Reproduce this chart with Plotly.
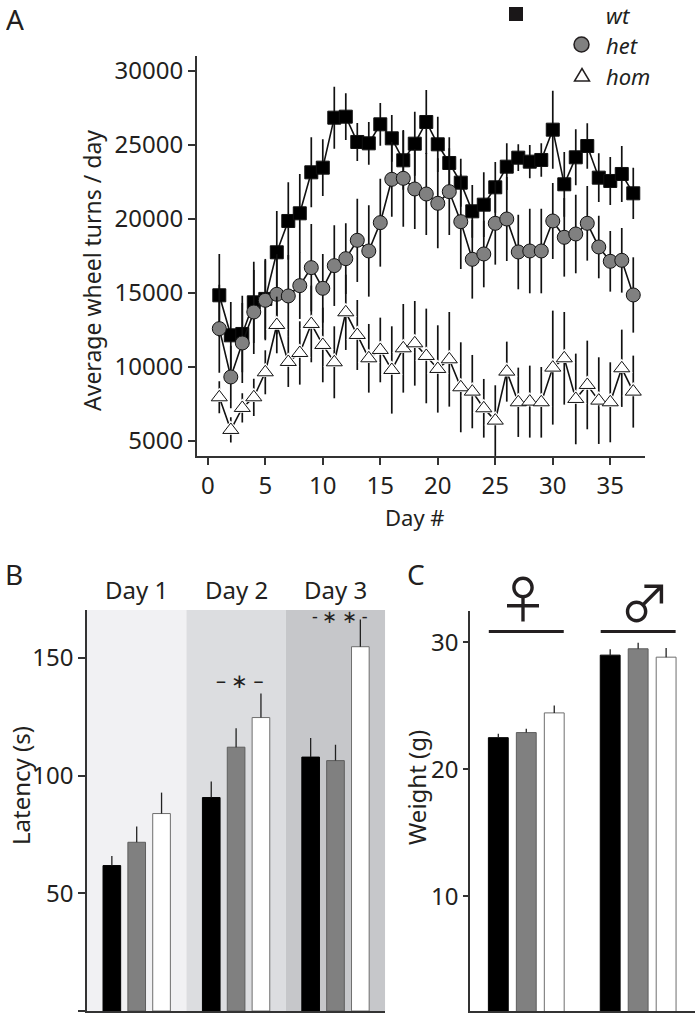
import plotly.graph_objects as go

W, H = 699, 1016
FONT = "Noto Sans"
INK = "#231f20"

# ---------- Panel A ----------
days = list(range(1, 38))
wt_turns = [14844, 12140, 12232, 14370, 14600, 17750, 19866, 20384, 23154, 23470, 26847, 26915, 25204,
            25113, 26397, 25451, 23965, 25091, 26555, 25046, 23785, 22456, 20519, 20970, 22141, 23537,
            24145, 23875, 23988, 26037, 22344, 24168, 24933, 22794, 22569, 23042, 21735]
wt_err = [2792, 2252, 2590, 2747, 2702, 2792, 2612, 2657, 2365, 1914, 2094, 1576, 1284, 1441, 1441, 1576,
          1982, 2162, 2162, 1869, 1734, 1621, 1779, 2184, 1712, 1576, 901, 1126, 1126, 2635, 2184, 1892,
          1531, 1644, 1621, 1892, 1734]
het_turns = [12592, 9327, 11624, 13718, 14507, 14912, 14800, 15498, 16713, 15317, 16849, 17321, 18560,
             17839, 19754, 22681, 22749, 22028, 21690, 21060, 21848, 19821, 17277, 17637, 19708, 20001,
             17772, 17839, 17839, 19866, 18763, 18988, 19708, 18110, 17141, 17209, 14867]
het_err = [2973, 2117, 2702, 2838, 2702, 2702, 2770, 2252, 2950, 2320, 2725, 2387, 2815, 3085, 2973, 2522,
           3265, 2702, 2770, 3040, 2928, 3198, 2657, 2252, 2792, 2838, 2522, 2860, 2860, 2567, 2657, 2657,
           2522, 2117, 2049, 2184, 2545]
hom_turns = [7953, 5746, 7233, 7953, 9642, 12840, 10340, 10948, 12908, 11489, 10318, 13696, 12164, 10588,
             11151, 9800, 11263, 11601, 10746, 9868, 10520, 8629, 8336, 7210, 6377, 9687, 7615, 7661, 7615,
             9958, 10588, 7841, 8786, 7728, 7615, 9913, 8336]
hom_err = [1081, 856, 991, 1261, 1486, 1914, 1689, 2139, 2590, 2522, 2432, 2545, 2365, 2320, 2184, 2950,
           2995, 2860, 3198, 2950, 3198, 3040, 2477, 1982, 2387, 2027, 2342, 2432, 2387, 3851, 3130, 3063,
           2995, 2928, 2702, 2612, 2432]
a_xticks = [0, 5, 10, 15, 20, 25, 30, 35]
a_yticks = [5000, 10000, 15000, 20000, 25000, 30000]

# ---------- Panel B ----------
b_days = ["Day 1", "Day 2", "Day 3"]
b_wt = [61.8, 90.7, 107.9]
b_wt_err = [4.1, 6.8, 8.1]
b_het = [71.7, 112.1, 106.4]
b_het_err = [6.7, 8.1, 6.7]
b_hom = [83.9, 124.7, 154.8]
b_hom_err = [8.9, 10.2, 11.6]
b_yticks = [0, 50, 100, 150]
b_ylabels = ["", "50", "100", "150"]
b_bands = ["#f1f1f3", "#dcdde0", "#c6c7ca"]

# ---------- Panel C ----------
c_sex = ["\u2640", "\u2642"]
c_wt = [22.5, 29.0]
c_wt_err = [0.3, 0.47]
c_het = [22.9, 29.5]
c_het_err = [0.3, 0.47]
c_hom = [24.45, 28.84]
c_hom_err = [0.58, 0.73]
c_yticks = [10, 20, 30]


def px(x):
    return x / W


def py(y):
    return 1 - y / H


fig = go.Figure()


def line_trace(x, y, err, name, sym, size, fill, mline="#111111"):
    fig.add_trace(go.Scatter(
        x=x, y=y, name=name, mode="lines+markers", xaxis="x", yaxis="y",
        line=dict(color="#111111", width=1.6),
        marker=dict(symbol=sym, size=size, color=fill, line=dict(color=mline, width=1)),
        error_y=dict(type="data", array=err, width=0, thickness=1.7, color="#111111"),
        showlegend=False,
    ))


line_trace(days, wt_turns, wt_err, "wt", "square", 13, "#000000")
line_trace(days, het_turns, het_err, "het", "circle", 14, "#808080")
# hom: line and whiskers, then a white halo, then the open triangles
fig.add_trace(go.Scatter(
    x=days, y=hom_turns, mode="lines", name="hom", line=dict(color="#111111", width=1.6),
    error_y=dict(type="data", array=hom_err, width=0, thickness=1.7, color="#111111"), showlegend=False))
fig.add_trace(go.Scatter(
    x=days, y=hom_turns, mode="markers", name="hom halo",
    marker=dict(symbol="triangle-up", size=19, color="white"), showlegend=False))
fig.add_trace(go.Scatter(
    x=days, y=hom_turns, mode="markers", name="hom markers",
    marker=dict(symbol="triangle-up", size=14, color="white", line=dict(color="#111111", width=1)),
    showlegend=False))


def bars(xa, ya, x, y, err, color, outline):
    fig.add_trace(go.Bar(
        x=x, y=y, xaxis=xa, yaxis=ya, offsetgroup=color, showlegend=False,
        marker=dict(color=color, line=dict(color=outline, width=1)),
        error_y=dict(type="data", symmetric=False, array=err, arrayminus=[0] * len(err),
                     width=0, thickness=1.3, color="#222222"),
    ))


for vals, errs, col, out in [(b_wt, b_wt_err, "#000000", "#000000"),
                             (b_het, b_het_err, "#808080", "#5e5e5e"),
                             (b_hom, b_hom_err, "#ffffff", "#6e6e6e")]:
    bars("x2", "y2", b_days, vals, errs, col, out)
for vals, errs, col, out in [(c_wt, c_wt_err, "#000000", "#000000"),
                             (c_het, c_het_err, "#808080", "#5e5e5e"),
                             (c_hom, c_hom_err, "#ffffff", "#6e6e6e")]:
    bars("x3", "y3", c_sex, vals, errs, col, out)

axis_common = dict(showgrid=False, zeroline=False, showline=True, linecolor="#333333", linewidth=1.5,
                   ticks="outside", tickcolor="#333333", tickwidth=1.5,
                   tickfont=dict(family=FONT, size=24, color=INK))

shapes = []
for i, c in enumerate(b_bands):
    shapes.append(dict(type="rect", xref="x2", yref="y2", x0=i - 0.5, x1=i + 0.5, y0=0, y1=170.4,
                       fillcolor=c, line=dict(width=0), layer="below"))
for i in range(len(c_sex)):
    shapes.append(dict(type="line", xref="x3", yref="y3", x0=i - 0.335, x1=i + 0.335, y0=30.86, y1=30.86,
                       line=dict(color="#231f20", width=3)))
# legend keys
shapes.append(dict(type="rect", xref="paper", yref="paper", x0=px(509), x1=px(523), y0=py(21), y1=py(7),
                   fillcolor="#1a1718", line=dict(width=0)))
shapes.append(dict(type="circle", xref="paper", yref="paper", x0=px(574), x1=px(589), y0=py(52), y1=py(37),
                   fillcolor="#808080", line=dict(color="#231f20", width=1.5)))
shapes.append(dict(type="path", xref="paper", yref="paper",
                   path=f"M {px(574.5)} {py(81)} L {px(589.5)} {py(81)} L {px(582)} {py(68.5)} Z",
                   fillcolor="white", line=dict(color="#231f20", width=1.5)))


def label(x, y, text, size=22, italic=False, anchor="center", family=FONT, angle=0, height=None):
    return dict(xref="paper", yref="paper", x=px(x), y=py(y), text=f"<i>{text}</i>" if italic else text,
                showarrow=False, xanchor=anchor, yanchor="middle", textangle=angle, height=height,
                font=dict(family=family, size=size, color=INK))


annotations = [
    label(4, 19, "A", 28, anchor="left", height=30),
    label(3, 574, "B", 28, anchor="left"),
    label(405, 574, "C", 28, anchor="left"),
    label(604, 15.2, "wt", 22, True, "left", height=26),
    label(604, 45.4, "het", 22, True, "left", height=26),
    label(604, 75.6, "hom", 22, True, "left", height=26),
    label(92, 271, "Average wheel turns / day", 23, angle=-90),
    label(415, 517, "Day #", 22),
    label(20, 786, "Latency (s)", 24, angle=-90),
    label(416, 788, "Weight (g)", 24, angle=-90),
    label(239, 680, "\u2013 \u2217 \u2013", 20),
    label(340, 616, "- \u2217 \u2217 -", 18),
    label(523, 596, c_sex[0], 50, family="Noto Sans CJK JP"),
    label(645, 600, c_sex[1], 50, family="Noto Sans CJK JP"),
]
for d in b_days:
    annotations.append(dict(xref="x2", yref="paper", x=d, y=py(589), text=d, showarrow=False,
                            yanchor="middle", font=dict(family=FONT, size=24, color=INK)))

fig.update_layout(
    width=W, height=H, margin=dict(l=0, r=0, t=0, b=0, autoexpand=False), paper_bgcolor="white",
    plot_bgcolor="rgba(0,0,0,0)",
    barmode="group", bargap=0.25, bargroupgap=0.29, shapes=shapes, annotations=annotations,
    xaxis=dict(axis_common, domain=[px(196.7), px(645)], range=[-0.965, 38.02], tickvals=a_xticks, ticklen=7,
               anchor="y"),
    yaxis=dict(axis_common, domain=[py(456), py(56)], range=[3986, 31014], tickvals=a_yticks, ticklen=7,
               tickformat="d", anchor="x"),
    xaxis2=dict(axis_common, domain=[px(87), px(385.2)], range=[-0.5, 2.5], ticks="", showticklabels=False,
                anchor="y2", type="category", categoryorder="array", categoryarray=b_days),
    yaxis2=dict(axis_common, domain=[py(1011), py(610)], range=[0, 170.4], tickvals=b_yticks, ticktext=b_ylabels,
                ticklen=7, anchor="x2"),
    xaxis3=dict(axis_common, domain=[px(470), px(695)], range=[-0.503, 1.508], ticks="", showticklabels=False,
                anchor="y3", type="category", categoryorder="array", categoryarray=c_sex),
    yaxis3=dict(axis_common, domain=[py(1011), py(610.7)], range=[0.97, 32.5], tickvals=c_yticks, ticklen=5,
                anchor="x3"),
)

fig.write_html("out.html", post_script="document.body.style.margin='0';document.body.style.overflow='hidden';",
               config={"displayModeBar": False})
